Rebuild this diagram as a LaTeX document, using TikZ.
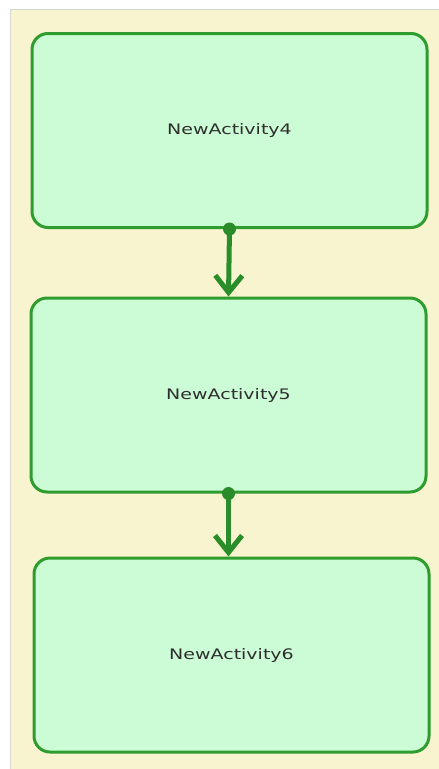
\documentclass[tikz,border=0pt]{standalone}
\usepackage{fontspec}
\setmainfont{DejaVu Sans}
\usepackage{xcolor}
\definecolor{actgreen}{HTML}{2E9C2E}
\definecolor{actfill}{HTML}{CCFCD6}
\definecolor{lanecream}{HTML}{F9F4D0}
\definecolor{lanegray}{HTML}{D6D6D0}
\definecolor{textgray}{HTML}{2E2E2E}
\usetikzlibrary{arrows.meta,positioning}
\tikzset{
  activity/.style={draw=actgreen,line width=3pt,fill=actfill,rounded corners=16pt,
    minimum width=395pt,minimum height=194pt,text=textgray,font=\fontsize{14.5}{17}\selectfont},
  flowarrow/.style={-{Straight Barb[length=17pt,width=27pt,line width=5pt]},line width=5pt,actgreen!90!black},
  flowdot/.style={fill=actgreen!90!black}
}
\newcommand{\actname}[1]{\raisebox{-2pt}{\scalebox{1.31}[1]{#1}}}

\begin{document}
\begin{tikzpicture}[x=1pt,y=-1pt]
\useasboundingbox (0,0) rectangle (439,769);
\fill[white] (0,0) rectangle (439,769);
\fill[lanecream] (11,10) rectangle (439,769);
\draw[lanegray,line width=1.2pt] (10.6,769) -- (10.6,9.6) -- (439,9.6);
\node[activity] (a4) at (229.5,130.5) {\actname{NewActivity4}};
\node[activity] (a5) at (228.5,395) {\actname{NewActivity5}};
\node[activity] (a6) at (231.5,655) {\actname{NewActivity6}};
\draw[flowarrow] (a4.south) -- (a5.north);
\draw[flowarrow] (a5.south) -- (a5.south |- a6.north);
\fill[flowdot] (a4.south) circle (6.5pt);
\fill[flowdot] (a5.south) circle (6.5pt);
\end{tikzpicture}
\end{document}
